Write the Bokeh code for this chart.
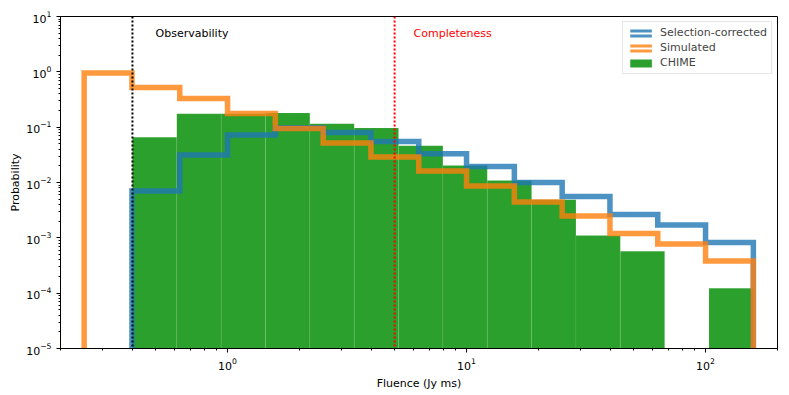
import numpy as np
from bokeh.plotting import figure
from bokeh.models import (ColumnDataSource, FixedTicker, Legend, LegendItem,
                          Span, Label)
from bokeh.embed import file_html
from bokeh.resources import INLINE

# ---------------- data ----------------
sim_edges = np.logspace(-0.6, 2.2, 15)            # Jy ms, bins of simulated / corrected
chime_edges = np.logspace(np.log10(0.4), 2.2, 15)  # Jy ms, bins of CHIME histogram

simulated = [0.95, 0.52, 0.33, 0.177, 0.095, 0.052, 0.029, 0.0161,
             0.00865, 0.00443, 0.00248, 0.0012, 0.00077, 0.00038]
corrected = [0.0, 0.0070, 0.0314, 0.072, 0.098, 0.080, 0.055, 0.033,
             0.0195, 0.010, 0.0056, 0.00264, 0.0017, 0.00082]
chime = [0.066, 0.174, 0.175, 0.18, 0.115, 0.097, 0.046, 0.0203,
         0.0109, 0.0049, 0.0011, 0.00057, 0.0, 0.000123]

observability = 0.4
completeness = 5.0

x_ticks = [1, 10, 100]
y_ticks = [1e-5, 1e-4, 1e-3, 1e-2, 1e-1, 1e0, 1e1]

FLOOR = 1e-7  # baseline below the visible range (log axis cannot show 0)
FONT = "DejaVu Sans"


def outline(edges, vals):
    v = np.maximum(np.asarray(vals, float), FLOOR)
    xs = np.repeat(edges, 2)
    ys = np.concatenate([[FLOOR], np.repeat(v, 2), [FLOOR]])
    return xs, ys


p = figure(frame_width=717, frame_height=332,
           x_axis_type="log", y_axis_type="log",
           x_range=(0.2, 200), y_range=(1e-5, 10),
           output_backend="svg", toolbar_location=None,
           min_border_left=60, min_border_right=10,
           min_border_top=16, min_border_bottom=45)

p.xgrid.visible = False
p.ygrid.visible = False
p.outline_line_color = "black"
p.outline_line_width = 1
p.outline_line_alpha = 1

# CHIME bars
chime_top = np.maximum(np.asarray(chime, float), FLOOR)
src_chime = ColumnDataSource(dict(left=chime_edges[:-1], right=chime_edges[1:],
                                  top=chime_top, bottom=np.full(len(chime), FLOOR)))
r_chime = p.quad(left="left", right="right", top="top", bottom="bottom",
                 source=src_chime, fill_color="#2ca02c", fill_alpha=1.0,
                 line_color="white", line_alpha=0.07, line_width=1)

# step outlines
xs, ys = outline(sim_edges, corrected)
r_corr = p.line(xs, ys, line_color="#1f77b4", line_alpha=0.8, line_width=5.5,
                line_join="miter")
xs, ys = outline(sim_edges, simulated)
r_sim = p.line(xs, ys, line_color="#ff7f0e", line_alpha=0.8, line_width=5.5,
               line_join="miter")

# threshold lines
p.add_layout(Span(location=observability, dimension="height", line_color="black",
                  line_dash="2 2", line_width=2))
p.add_layout(Span(location=completeness, dimension="height", line_color="red",
                  line_dash="2 2", line_width=2))

p.add_layout(Label(x=0.5, y=5, text="Observability", text_font=FONT,
                   text_font_size="11px", text_color="black",
                   text_baseline="alphabetic"))
p.add_layout(Label(x=completeness * 1.2, y=5, text="Completeness", text_font=FONT,
                   text_font_size="11px", text_color="red",
                   text_baseline="alphabetic"))

# legend (dummy off-screen renderers for matplotlib-like step patches)
dq = ColumnDataSource(dict(left=[0.01], right=[0.011], top=[FLOOR], bottom=[FLOOR / 2]))
dl = ColumnDataSource(dict(x=[0.01, 0.011], y=[FLOOR, FLOOR]))
d_blue = p.quad(left="left", right="right", top="top", bottom="bottom", source=dq,
                fill_color="#1f77b4", fill_alpha=0.8, line_color=None)
d_blue_w = p.line("x", "y", source=dl, line_color="white", line_width=2)
d_orng = p.quad(left="left", right="right", top="top", bottom="bottom", source=dq,
                fill_color="#ff7f0e", fill_alpha=0.8, line_color=None)
d_orng_w = p.line("x", "y", source=dl, line_color="white", line_width=2)
d_green = p.quad(left="left", right="right", top="top", bottom="bottom", source=dq,
                 fill_color="#2ca02c", line_color=None)

legend = Legend(items=[
    LegendItem(label="Selection-corrected", renderers=[d_blue, d_blue_w]),
    LegendItem(label="Simulated", renderers=[d_orng, d_orng_w]),
    LegendItem(label="CHIME", renderers=[d_green]),
], location="top_right", margin=5, padding=4, spacing=2,
    glyph_width=27, glyph_height=10, label_height=10, label_standoff=6,
    label_text_font=FONT, label_text_font_size="11px",
    border_line_color="#cccccc", border_line_width=1,
    background_fill_alpha=0.8)
p.add_layout(legend)

# axes
minor_x = [k * 10.0 ** e for e in range(-1, 3) for k in range(2, 10)]
minor_y = [k * 10.0 ** e for e in range(-5, 1) for k in range(2, 10)]
p.xaxis.ticker = FixedTicker(ticks=x_ticks, minor_ticks=minor_x)
p.yaxis.ticker = FixedTicker(ticks=y_ticks, minor_ticks=minor_y)

for ax in (p.xaxis, p.yaxis):
    ax.major_tick_out = 4
    ax.major_tick_in = 0
    ax.minor_tick_out = 2
    ax.minor_tick_in = 0
    ax.axis_line_color = "black"
    ax.major_tick_line_color = "black"
    ax.minor_tick_line_color = "black"
    ax.major_label_text_font = FONT
    ax.major_label_text_font_size = "11px"
    ax.major_label_text_color = "black"
    ax.axis_label_text_font = FONT
    ax.axis_label_text_font_size = "11px"
    ax.axis_label_text_font_style = "normal"
    ax.axis_label_text_color = "black"

p.xaxis.axis_label = "Fluence (Jy ms)"
p.yaxis.axis_label = "Probability"
p.xaxis.axis_label_standoff = 4
p.yaxis.axis_label_standoff = 1

open("out.html", "w").write(file_html(p, INLINE))
